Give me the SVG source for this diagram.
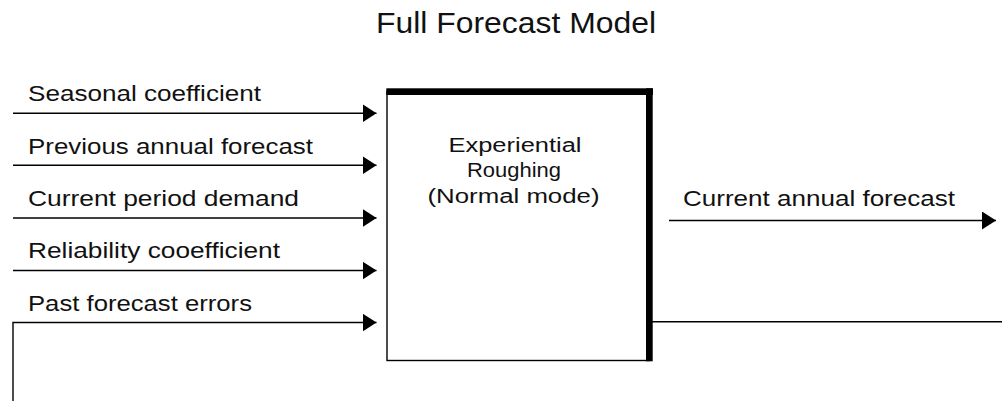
<svg xmlns="http://www.w3.org/2000/svg" width="1002" height="401" viewBox="0 0 1002 401">
<style>
text{font-family:"Liberation Sans",Arial,Helvetica,sans-serif;fill:#111;}
.lbl{font-size:22px;}
.box-txt{font-size:20px;text-anchor:middle;}
.title{font-size:30px;}
.conn{fill:none;stroke:#000;stroke-width:1.4;}
</style>
<defs>
<marker id="arr" markerUnits="userSpaceOnUse" markerWidth="14" markerHeight="18" refX="14" refY="9" orient="auto">
<path d="M0,0 L14,9 L0,18 Z" fill="#000"/>
</marker>
</defs>
<rect width="1002" height="401" fill="#fff"/>
<text class="title" x="376" y="33" textLength="280" lengthAdjust="spacingAndGlyphs">Full Forecast Model</text>
<g id="connectors">
<line class="conn" x1="13" y1="113.3" x2="376.5" y2="113.3" marker-end="url(#arr)"/>
<line class="conn" x1="13" y1="165.3" x2="376.5" y2="165.3" marker-end="url(#arr)"/>
<line class="conn" x1="13" y1="218" x2="376.5" y2="218" marker-end="url(#arr)"/>
<line class="conn" x1="13" y1="270.5" x2="376.5" y2="270.5" marker-end="url(#arr)"/>
<path class="conn" d="M13,401 V322.5 H376.5" marker-end="url(#arr)"/>
<line class="conn" x1="669" y1="220.5" x2="996" y2="220.5" marker-end="url(#arr)"/>
<line class="conn" x1="652" y1="321.7" x2="1002" y2="321.7"/>
<text class="lbl" x="28" y="101" textLength="233" lengthAdjust="spacingAndGlyphs">Seasonal coefficient</text>
<text class="lbl" x="28" y="153.5" textLength="285" lengthAdjust="spacingAndGlyphs">Previous annual forecast</text>
<text class="lbl" x="28" y="206" textLength="271" lengthAdjust="spacingAndGlyphs">Current period demand</text>
<text class="lbl" x="28" y="258" textLength="252" lengthAdjust="spacingAndGlyphs">Reliability cooefficient</text>
<text class="lbl" x="28" y="310.5" textLength="224" lengthAdjust="spacingAndGlyphs">Past forecast errors</text>
<text class="lbl" x="683" y="206" textLength="272" lengthAdjust="spacingAndGlyphs">Current annual forecast</text>
</g>
<g id="experiential-roughing">
<rect x="387" y="91.5" width="262" height="269" fill="#fff" stroke="#000" stroke-width="1.4"/>
<rect x="386.3" y="88.3" width="266.7" height="6.7" fill="#000"/>
<rect x="646" y="88.3" width="6.7" height="273" fill="#000"/>
<text class="box-txt" x="515" y="151.7" textLength="133" lengthAdjust="spacingAndGlyphs">Experiential</text>
<text class="box-txt" x="514" y="177.3" textLength="94" lengthAdjust="spacingAndGlyphs">Roughing</text>
<text class="box-txt" x="513.5" y="203.3" textLength="172" lengthAdjust="spacingAndGlyphs">(Normal mode)</text>
</g>
</svg>
